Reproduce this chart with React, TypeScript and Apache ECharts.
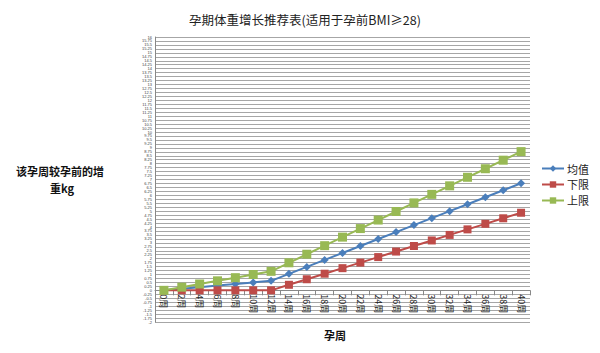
import React, { useEffect, useRef } from "react";
import * as echarts from "echarts";

const weeks = ["0周","2周","4周","6周","8周","10周","12周","14周","16周","18周","20周","22周","24周","26周","28周","30周","32周","34周","36周","38周","40周"];
const meanVals = [0, 0.1, 0.2, 0.3, 0.4, 0.5, 0.6, 1.04, 1.48, 1.92, 2.36, 2.8, 3.24, 3.68, 4.12, 4.56, 5.0, 5.44, 5.88, 6.32, 6.76];
const lowerVals = [0, 0, 0, 0, 0, 0, 0, 0.35, 0.7, 1.05, 1.4, 1.75, 2.1, 2.45, 2.8, 3.15, 3.5, 3.85, 4.2, 4.55, 4.9];
const upperVals = [0, 0.2, 0.4, 0.6, 0.8, 1.0, 1.2, 1.74, 2.28, 2.82, 3.36, 3.9, 4.44, 4.98, 5.52, 6.06, 6.6, 7.14, 7.68, 8.22, 8.76];
const seriesNames = ["均值", "下限", "上限"];
const yMin = -2;
const yMax = 16;

export default function App() {
  const ref = useRef<HTMLDivElement>(null);
  useEffect(() => {
    if (!ref.current) return;
    const chart = echarts.init(ref.current, null, { renderer: "svg" });
    const gridTop = 37;
    const gridBottom = 31;
    const plotH = 353 - gridTop - gridBottom;
    const zeroOffset = -((0 - yMin) / (yMax - yMin)) * plotH;
    chart.setOption({
      animation: false,
      backgroundColor: "#ffffff",
      title: {
        text: "孕期体重增长推荐表(适用于孕前BMI≥28)",
        left: 300,
        top: 8,
        textAlign: "center",
        textStyle: { fontSize: 12.5, fontWeight: "normal", color: "#222", fontFamily: "Noto Sans CJK SC" },
      },
      legend: {
        orient: "vertical",
        left: 536,
        top: 158,
        itemGap: 5,
        itemWidth: 22,
        itemHeight: 8,
        textStyle: { fontSize: 11, color: "#222", fontFamily: "Noto Sans CJK SC", padding: [0, 0, 0, -2] },
        data: seriesNames,
      },
      graphic: [
        {
          type: "text",
          x: 60,
          y: 165,
          style: {
            text: "该孕周较孕前的增",
            fontSize: 11,
            fontWeight: "bold",
            fill: "#111",
            textAlign: "center",
            fontFamily: "Noto Sans CJK SC",
          },
        },
        {
          type: "text",
          x: 62,
          y: 182,
          style: {
            text: "重kg",
            fontSize: 11,
            fontWeight: "bold",
            fill: "#111",
            textAlign: "center",
            fontFamily: "Noto Sans CJK SC",
          },
        },
        {
          type: "text",
          x: 335,
          y: 329,
          style: { text: "孕周", fontSize: 11, fontWeight: "bold", fill: "#111", textAlign: "center", fontFamily: "Noto Sans CJK SC" },
        },
      ],
      grid: { left: 155, right: 70, top: gridTop, bottom: gridBottom },
      xAxis: {
        type: "category",
        data: weeks,
        boundaryGap: true,
        position: "bottom",
        offset: zeroOffset,
        axisLine: { onZero: false, lineStyle: { color: "#888" } },
        axisTick: { show: true, lineStyle: { color: "#888" } },
        axisLabel: { rotate: -90, fontSize: 9, color: "#222", margin: 4, interval: 0, fontFamily: "Noto Sans CJK SC" },
        splitLine: { show: false },
      },
      yAxis: {
        type: "value",
        min: yMin,
        max: yMax,
        interval: 0.25,
        axisLine: { show: true, lineStyle: { color: "#888" } },
        axisTick: { show: false },
        axisLabel: { fontSize: 4, color: "#444", margin: 3 },
        splitLine: { show: true, lineStyle: { color: "#a6a6a6", width: 1 } },
      },
      series: [
        {
          name: seriesNames[0],
          type: "line",
          data: meanVals,
          symbol: "diamond",
          symbolSize: 8,
          itemStyle: { color: "#4A7EBB" },
          lineStyle: { width: 2, color: "#4A7EBB" },
        },
        {
          name: seriesNames[1],
          type: "line",
          data: lowerVals,
          symbol: "rect",
          symbolSize: 8,
          itemStyle: { color: "#BE4B48" },
          lineStyle: { width: 2, color: "#BE4B48" },
        },
        {
          name: seriesNames[2],
          type: "line",
          data: upperVals,
          symbol: "rect",
          symbolSize: 9,
          itemStyle: { color: "#98B954" },
          lineStyle: { width: 2, color: "#98B954" },
        },
      ],
    });
    return () => chart.dispose();
  }, []);
  return <div ref={ref} style={{ width: 600, height: 353, position: "absolute", left: 0, top: 0 }} />;
}
